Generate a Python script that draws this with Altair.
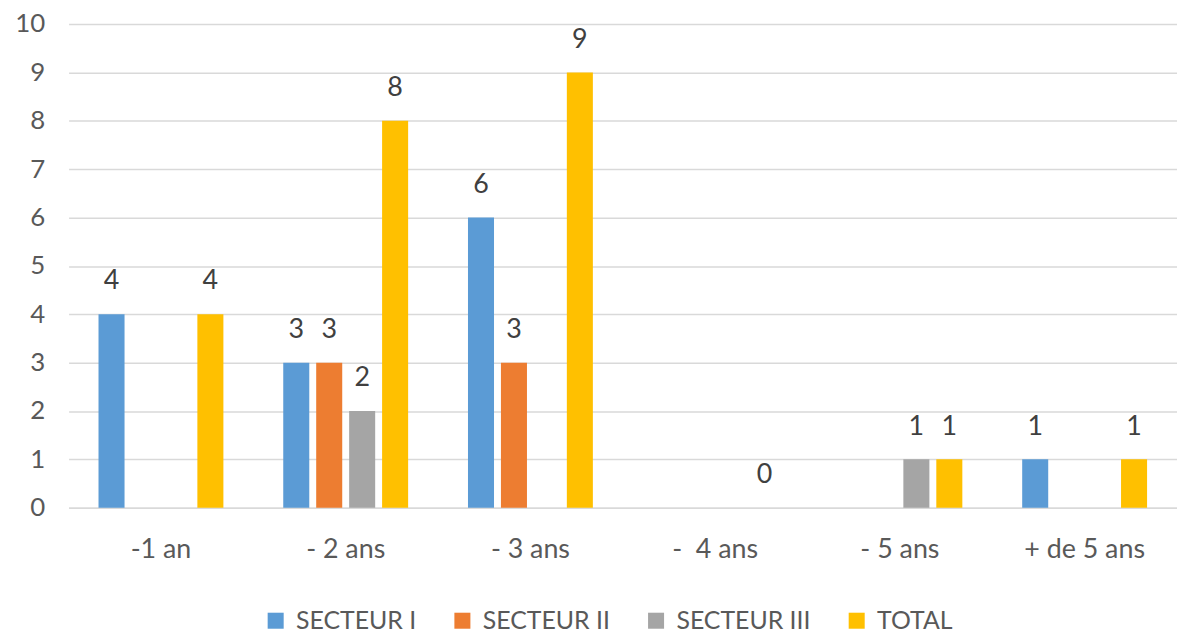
import altair as alt
import pandas as pd

categories = ["-1 an", "- 2 ans", "- 3 ans", "-\u00a0 4 ans", "- 5 ans", "+ de 5 ans"]
series = ["SECTEUR I", "SECTEUR II", "SECTEUR III", "TOTAL"]
secteur1 = [4, 3, 6, None, None, 1]
secteur2 = [None, 3, 3, None, None, None]
secteur3 = [None, 2, None, None, 1, None]
total = [4, 8, 9, 0, 1, 1]
colors = ["#5B9BD5", "#ED7D31", "#A5A5A5", "#FFC000"]
y_ticks = list(range(0, 11))

rows = []
for s, vals in zip(series, [secteur1, secteur2, secteur3, total]):
    for c, v in zip(categories, vals):
        if v is not None:
            rows.append({"cat": c, "serie": s, "val": v})
df = pd.DataFrame(rows)

FONT = "Lato"
x = alt.X("cat:N", sort=categories, title=None,
          scale=alt.Scale(paddingInner=0.324, paddingOuter=0.162),
          axis=alt.Axis(labelAngle=0, ticks=False, domainColor="#D9D9D9", domainWidth=1.5,
                        labelFont=FONT, labelFontSize=27, labelColor="#595959",
                        labelPadding=29))
xo = alt.XOffset("serie:N", sort=series,
                 scale=alt.Scale(paddingInner=0.21, paddingOuter=0))
y = alt.Y("val:Q", title=None,
          scale=alt.Scale(domain=[0, 10], nice=False),
          axis=alt.Axis(values=y_ticks, ticks=False, domain=False, gridColor="#D9D9D9",
                        gridWidth=1.5, labelFont=FONT, labelFontSize=26,
                        labelColor="#595959", labelPadding=24))
color = alt.Color("serie:N", sort=series,
                  scale=alt.Scale(domain=series, range=colors),
                  legend=alt.Legend(title=None, orient="none", direction="horizontal",
                                    legendX=196, legendY=588,
                                    symbolType="square", symbolSize=260,
                                    symbolStrokeWidth=0, labelFont=FONT,
                                    labelFontSize=25, labelColor="#595959",
                                    columnPadding=34, labelOffset=8))

base = alt.Chart(df)
bars = base.mark_bar().encode(x=x, xOffset=xo, y=y, color=color)
labels = base.mark_text(baseline="alphabetic", dy=-25, font=FONT, fontSize=27,
                        color="#404040").encode(x=x, xOffset=xo, y=y, text="val:Q")

chart = (bars + labels).properties(
    width=1116, height=487,
    autosize=alt.AutoSizeParams(type="none"),
    padding={"left": 61, "top": 14, "right": 0, "bottom": 130},
).configure_view(stroke=None)

chart.save("out.html", embed_options={"renderer": "svg", "actions": False})
